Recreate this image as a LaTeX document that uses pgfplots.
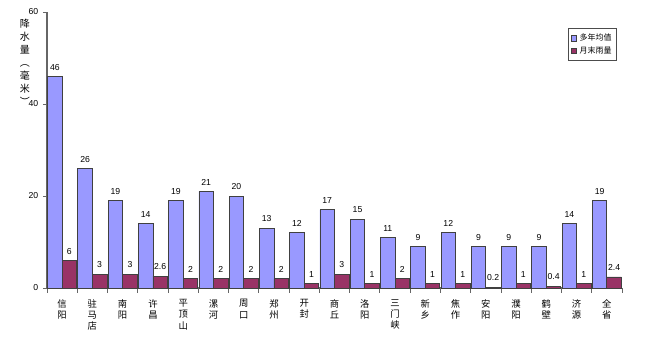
\documentclass[border=0pt]{standalone}
\usepackage{pgfplots}
\pgfplotsset{compat=1.18}
\usepackage{fontspec}
\setmainfont{Liberation Sans}
\newfontfamily\cjk{Noto Sans CJK SC}
\definecolor{cblue}{HTML}{9999FF}
\definecolor{cred}{HTML}{993366}
\pgfplotstableread{
x avg cur
0 46 6
1 26 3
2 19 3
3 14 2.6
4 19 2
5 21 2
6 20 2
7 13 2
8 12 1
9 17 3
10 15 1
11 11 2
12 9 1
13 12 1
14 9 0.2
15 9 1
16 9 0.4
17 14 1
18 19 2.4
}\datatable
\begin{document}
\begin{tikzpicture}
\path[use as bounding box] (-35.25pt,-56.25pt) rectangle (462pt,216pt);
\begin{axis}[
  at={(0pt,0pt)}, anchor=south west,
  scale only axis, width=431.25pt, height=207pt,
  ybar=0pt, bar width=0.48,
  xmin=-0.5, xmax=18.5, ymin=0, ymax=60,
  ytick={0,20,40,60},
  xtick={0,...,18},
  xticklabels={{信\\阳},{驻\\马\\店},{南\\阳},{许\\昌},{平\\顶\\山},{漯\\河},{周\\口},{郑\\州},{开\\封},{商\\丘},{洛\\阳},{三\\门\\峡},{新\\乡},{焦\\作},{安\\阳},{濮\\阳},{鹤\\壁},{济\\源},{全\\省}},
  xticklabel style={align=center, font=\cjk\fontsize{7}{8.5}\selectfont, yshift=-2pt},
  yticklabel style={font=\fontsize{6.5}{7}\selectfont},
  /pgf/number format/assume math mode=true,
  axis x line*=bottom, axis y line*=left,
  axis line style={-, draw=black!60, line width=0.8pt},
  tick align=outside,
  major tick length=3pt,
  major x tick style={draw=none},
  minor xtick={-0.5,0.5,...,18.5},
  minor tick length=3.5pt,
  minor x tick style={draw=black!60, line width=0.6pt},
  y tick style={draw=black!60, line width=0.6pt},
  nodes near coords,
  nodes near coords style={font=\fontsize{6.5}{7}\selectfont, black, yshift=1pt},
  legend style={at={(0.906,0.942)}, anchor=north west, draw=black!70, line width=0.6pt,
    font=\cjk\fontsize{6}{7}\selectfont, row sep=-1pt, inner sep=2pt, legend cell align=left},
  legend image code/.code={\draw[#1, line width=0.4pt] (0pt,-2pt) rectangle (4pt,2pt);},
  clip=false,
]
\addplot[fill=cblue, draw=black!75, line width=0.6pt] table[x=x,y=avg]{\datatable};
\addplot[fill=cred, draw=black!75, line width=0.6pt] table[x=x,y=cur]{\datatable};
\legend{多年均值,月末雨量}
\end{axis}
\node[align=center, font=\cjk\fontsize{7.5}{9.75}\selectfont] at (-16.5pt,169pt) {降\\水\\量\\︵\\毫\\米\\︶};
\end{tikzpicture}
\end{document}
